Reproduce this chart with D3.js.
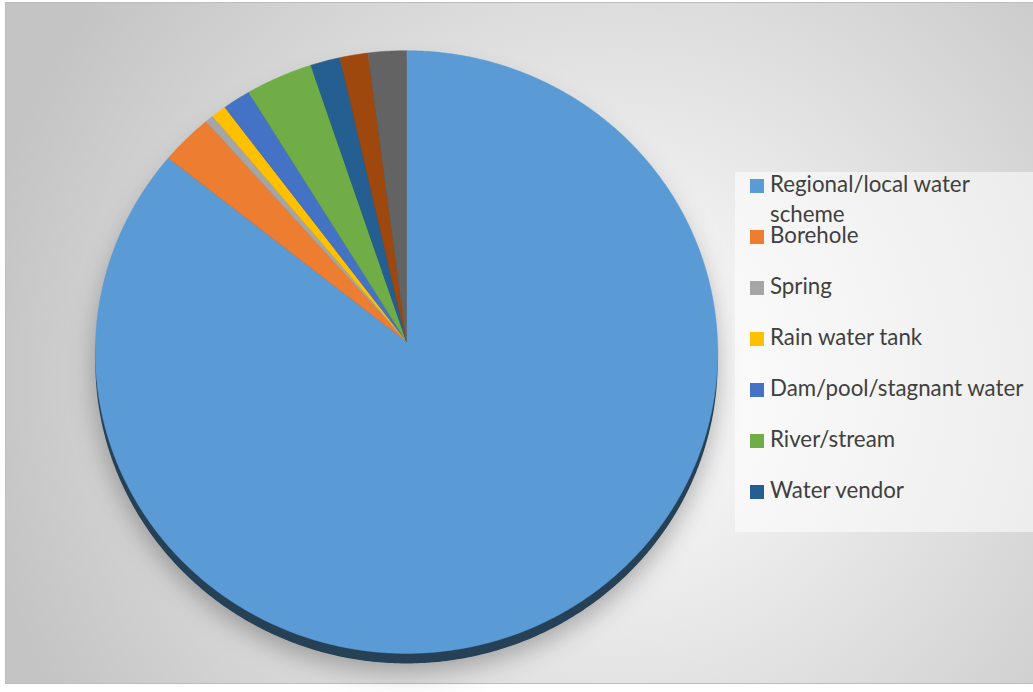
<!DOCTYPE html>
<html>
<head>
<meta charset="utf-8">
<script src="https://cdn.jsdelivr.net/npm/d3@7"></script>
<style>
  html, body { margin: 0; padding: 0; background: #fff; }
  svg { display: block; }
  .legend text { font-family: Lato, "Open Sans", sans-serif; font-size: 22.3px; fill: #404040; }
</style>
</head>
<body>
<svg width="1033" height="692"></svg>
<script>
// Main source of drinking water (% of households)
const categories = ["Regional/local water scheme", "Borehole", "Spring", "Rain water tank",
  "Dam/pool/stagnant water", "River/stream", "Water vendor", "Other", "Not stated"];
const shares = [85.7, 2.8, 0.45, 0.8, 1.5, 3.6, 1.6, 1.5, 2.05];
const colors = ["#5b9bd5", "#ed7d31", "#a5a5a5", "#ffc000", "#4472c4", "#70ad47", "#255e91", "#9e480e", "#636363"];
const legendCount = 7; // legend only shows the first seven entries

const svg = d3.select("svg");
const W = 1033, H = 692;
const defs = svg.append("defs");

// --- background ---
const bg = defs.append("radialGradient").attr("id", "bg")
  .attr("gradientUnits", "userSpaceOnUse").attr("cx", 620).attr("cy", 380).attr("r", 650);
bg.append("stop").attr("offset", 0).attr("stop-color", "#ffffff");
bg.append("stop").attr("offset", 1).attr("stop-color", "#c4c4c4");

const shadow = defs.append("filter").attr("id", "shadow")
  .attr("x", "-20%").attr("y", "-20%").attr("width", "140%").attr("height", "140%");
shadow.append("feDropShadow").attr("dx", 0).attr("dy", 8).attr("stdDeviation", 13)
  .attr("flood-color", "#000").attr("flood-opacity", 0.3);

svg.append("rect").attr("x", 5.5).attr("y", 2.5).attr("width", W - 5).attr("height", 681)
  .attr("fill", "url(#bg)").attr("stroke", "#bdbdbd");

// --- pie (slightly tilted, seen in perspective) ---
const apex = [406.5, 341.5];
const A = 311, B = 301, e = 0.035, depth = 10;
function proj(a) {
  const u = Math.sin(a), v = -Math.cos(a), k = 1 - e * v;
  return [apex[0] + A * u / k, apex[1] + B * v / k];
}
const arcs = d3.pie().sort(null).value(d => d)(shares);
const line = d3.line();
function slicePath(d) {
  const n = Math.max(2, Math.ceil((d.endAngle - d.startAngle) / 0.01));
  const pts = d3.range(n + 1).map(i => proj(d.startAngle + (d.endAngle - d.startAngle) * i / n));
  return line([apex, ...pts]) + "Z";
}

const pieG = svg.append("g");
pieG.append("g").attr("filter", "url(#shadow)")
  .selectAll("path").data(arcs).join("path")
  .attr("d", slicePath)
  .attr("transform", `translate(0,${depth})`)
  .attr("fill", (d, i) => d3.color(colors[i]).darker(2.5));

pieG.append("g").selectAll("path").data(arcs).join("path")
  .attr("d", slicePath)
  .attr("fill", (d, i) => colors[i])
  .attr("stroke", (d, i) => colors[i]).attr("stroke-width", 0.5);

// --- legend ---
const legend = svg.append("g").attr("class", "legend");
legend.append("rect").attr("x", 735).attr("y", 172).attr("width", W - 735).attr("height", 360)
  .attr("fill", "#fff").attr("opacity", 0.55);

const rowY = d3.scaleLinear().domain([0, 1]).range([192, 243]);
const items = legend.selectAll("g.item").data(categories.slice(0, legendCount)).join("g")
  .attr("class", "item")
  .attr("transform", (d, i) => `translate(750,${rowY(i)})`);
items.append("rect").attr("x", 0).attr("y", -13).attr("width", 14).attr("height", 14)
  .attr("fill", (d, i) => colors[i]);
items.append("text").attr("x", 20).attr("y", 0).each(function (d) {
  // wrap label at the legend's width
  const t = d3.select(this);
  const words = d.split(" ");
  let lineWords = [];
  let tspan = t.append("tspan").attr("x", 20).attr("dy", 0);
  words.forEach(w => {
    lineWords.push(w);
    tspan.text(lineWords.join(" "));
    if (tspan.node().getComputedTextLength() > 262 && lineWords.length > 1) {
      lineWords.pop();
      tspan.text(lineWords.join(" "));
      lineWords = [w];
      tspan = t.append("tspan").attr("x", 20).attr("dy", 30).text(w);
    }
  });
});
</script>
</body>
</html>
